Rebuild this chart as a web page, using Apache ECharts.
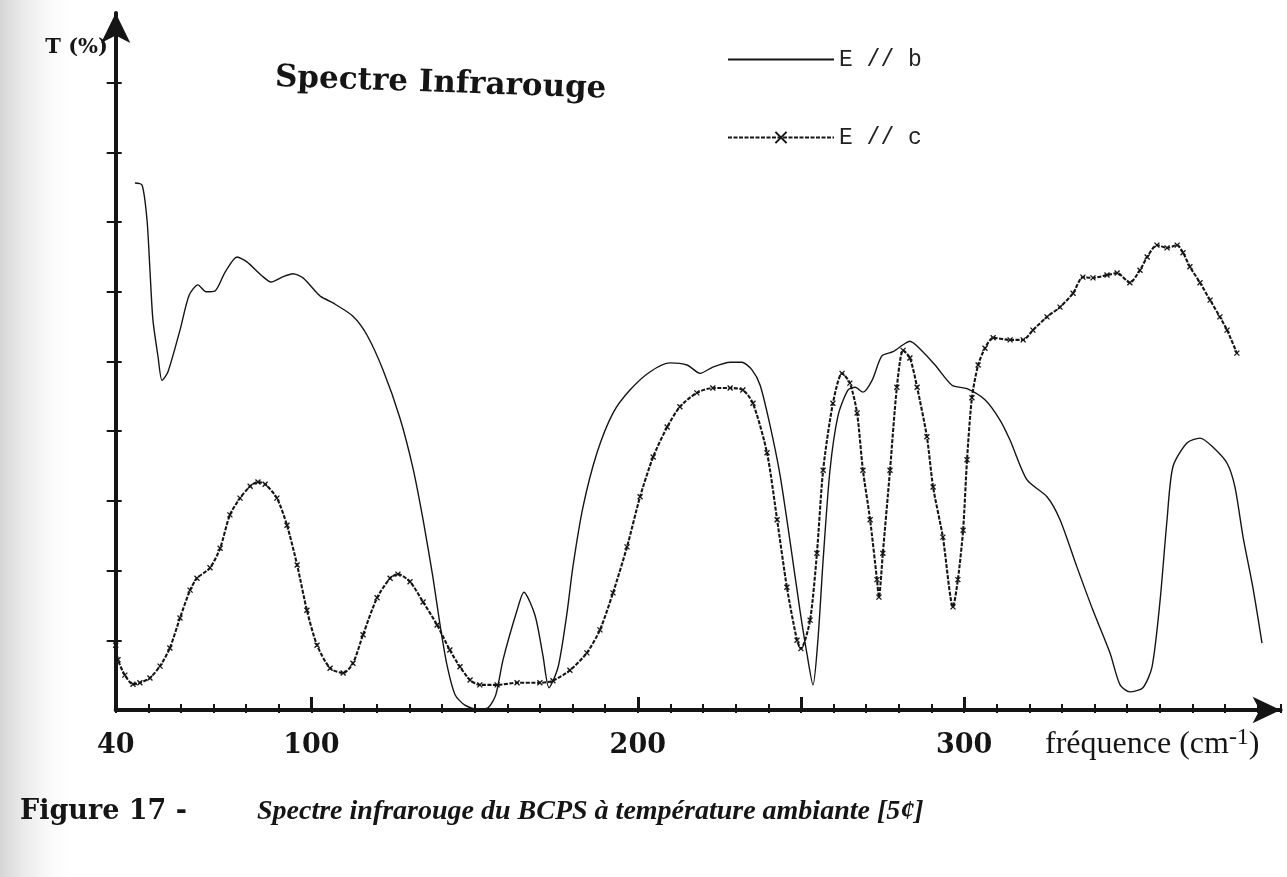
<!DOCTYPE html>
<html>
<head>
<meta charset="utf-8">
<title>Spectre Infrarouge</title>
<script src="https://cdn.jsdelivr.net/npm/echarts@6/dist/echarts.min.js"></script>
<style>
  html, body { margin: 0; padding: 0; background: #ffffff; }
  #chart { width: 1287px; height: 877px; }
</style>
</head>
<body>
<div id="chart"></div>
<script>
// Frequencies (cm-1) and transmission (%) for E // b
const freqB = [45.9, 48.1, 49.6, 50.5, 51.4, 53.0, 54.2, 56.0, 59.7, 62.5, 65.2, 67.7, 70.4, 73.5, 77.2, 80.2, 84.8, 87.6, 91.0, 94.3,
  97.4, 100.8, 102.9, 106.6, 112.7, 117.0, 121.9, 127.1, 131.1, 134.2, 137.2, 139.4, 141.5, 144.0, 147.0, 151.0, 154.1, 156.5, 158.7, 163.0,
  165.1, 168.5, 170.9, 172.8, 175.6, 178.3, 180.1, 183.2, 187.5, 192.4, 197.6, 203.7, 209.9, 215.1, 219.1, 223.0, 228.3, 231.9, 235.0, 237.5,
  240.5, 243.6, 246.6, 249.7, 251.9, 253.7, 255.2, 256.8, 258.9, 261.4, 264.4, 266.6, 269.0, 271.8, 274.8, 278.2, 281.3, 283.4, 286.5, 291.1,
  296.3, 300.9, 306.4, 311.0, 314.1, 319.3, 325.4, 329.4, 334.6, 339.5, 344.7, 347.8, 350.8, 354.8, 357.6, 360.0, 362.2, 364.0, 368.3, 372.3,
  376.3, 380.6, 383.0, 385.5, 388.5, 391.3];
const transB = [75.6, 75.3, 70.3, 63.1, 56.0, 50.6, 47.3, 48.5, 54.5, 59.5, 61.0, 60.0, 60.1, 62.8, 65.0, 64.3, 62.3, 61.4, 62.1, 62.6,
  62.0, 60.3, 59.3, 58.4, 56.5, 53.8, 48.8, 41.9, 34.7, 27.3, 19.1, 12.2, 6.5, 2.2, 0.7, 0.1, 0.3, 2.2, 7.2, 14.3,
  16.9, 13.6, 7.9, 3.2, 6.2, 13.9, 20.5, 29.1, 36.9, 42.6, 45.9, 48.5, 49.8, 49.5, 48.3, 49.2, 49.9, 49.9, 48.8, 46.6,
  40.9, 33.7, 24.4, 14.3, 7.9, 3.6, 10.0, 21.5, 34.4, 42.3, 45.9, 46.3, 45.6, 47.3, 50.8, 51.4, 52.4, 52.9, 51.8, 49.5,
  46.6, 46.1, 44.5, 41.6, 38.7, 33.0, 30.6, 27.3, 20.5, 14.3, 8.2, 3.6, 2.6, 3.2, 6.2, 15.4, 27.3, 34.9, 38.3, 39.0,
  37.7, 35.4, 32.0, 24.8, 17.6, 9.6];

// Frequencies (cm-1) and transmission (%) for E // c
const freqC = [40.0, 40.7, 42.8, 45.3, 47.4, 50.5, 53.6, 56.6, 59.7, 62.8, 64.9, 68.9, 72.0, 75.0, 78.1, 81.2, 83.6, 85.8, 89.4, 92.5,
  95.6, 98.6, 101.7, 105.7, 109.7, 112.7, 115.8, 120.1, 124.1, 126.5, 130.2, 134.2, 138.5, 142.4, 145.5, 148.6, 151.6, 156.9, 163.0, 170.0,
  174.0, 179.2, 184.4, 188.4, 192.4, 196.7, 200.7, 204.7, 209.0, 212.9, 218.1, 223.0, 228.3, 232.2, 235.3, 239.6, 242.7, 245.7, 248.8, 250.0,
  252.8, 254.9, 256.8, 259.8, 262.6, 265.0, 267.2, 269.0, 271.2, 273.3, 273.9, 275.1, 277.3, 279.4, 281.3, 283.4, 285.6, 288.6, 290.5, 293.5,
  296.6, 298.1, 299.7, 300.9, 302.4, 304.3, 306.4, 308.9, 314.1, 318.1, 321.1, 325.4, 329.4, 333.4, 336.4, 339.5, 343.8, 346.9, 350.8, 353.9,
  356.1, 359.1, 362.2, 365.3, 367.1, 369.2, 372.3, 375.4, 378.4, 380.6, 383.6];
const transC = [9.3, 7.2, 5.0, 3.7, 3.9, 4.6, 6.3, 8.9, 13.2, 17.2, 18.9, 20.4, 23.2, 28.0, 30.4, 32.1, 32.7, 32.4, 30.4, 26.5,
  20.8, 14.3, 9.3, 6.0, 5.3, 6.7, 10.8, 16.1, 18.9, 19.5, 18.4, 15.5, 12.2, 8.6, 6.2, 4.3, 3.6, 3.6, 3.9, 3.9,
  4.2, 5.7, 8.2, 11.5, 16.8, 23.4, 30.6, 36.3, 40.6, 43.5, 45.5, 46.2, 46.2, 45.9, 44.0, 36.9, 27.3, 17.6, 10.0, 8.8,
  12.9, 22.5, 34.4, 44.0, 48.3, 46.9, 42.6, 34.4, 27.3, 18.7, 16.2, 22.5, 34.4, 46.3, 51.6, 50.5, 46.3, 39.2, 32.0, 24.8,
  14.8, 18.7, 25.8, 35.9, 44.8, 49.5, 51.9, 53.4, 53.1, 53.1, 54.5, 56.4, 57.8, 59.8, 62.1, 62.0, 62.4, 62.7, 61.3, 63.1,
  65.0, 66.7, 66.3, 66.7, 65.6, 63.6, 61.3, 58.8, 56.4, 54.5, 51.2];

// Axis text and ticks
const xLabelValues = [40, 100, 200, 300];
const xMajorTicks = [100, 200, 250, 300];
const yTickValues = [10, 20, 30, 40, 50, 60, 70, 80, 90];
const seriesNames = ['E // b', 'E // c'];

const zip = (xs, ys) => xs.map((x, i) => [x, ys[i]]);

const INK = '#151515';
const serif = '"DejaVu Serif", "Liberation Serif", serif';
const X_MIN = 40, X_MAX = 397;

const chart = echarts.init(document.getElementById('chart'), null, { renderer: 'canvas' });

// a hidden x axis twin that only carries extra ticks
function tickAxis(extra) {
  return Object.assign({
    type: 'value',
    min: X_MIN,
    max: X_MAX,
    interval: 10,
    position: 'bottom',
    splitLine: { show: false },
    axisLine: { show: false, onZero: false },
    axisLabel: { show: false }
  }, extra);
}

const option = {
  backgroundColor: '#ffffff',
  animation: false,
  grid: {
    left: 115.7,
    right: 6.4,
    top: 13,
    bottom: 167,
    containLabel: false,
    outerBoundsMode: 'none'
  },
  legend: {
    orient: 'vertical',
    left: 722,
    top: 43,
    itemWidth: 106,
    itemHeight: 14,
    itemGap: 55,
    selectedMode: false,
    data: [
      { name: seriesNames[0], itemStyle: { color: 'transparent', borderWidth: 0 } },
      { name: seriesNames[1] }
    ],
    textStyle: {
      fontFamily: '"Liberation Mono", "DejaVu Sans Mono", monospace',
      fontSize: 23,
      color: '#222222'
    }
  },
  xAxis: [
    {
      type: 'value',
      min: X_MIN,
      max: X_MAX,
      interval: 10,
      position: 'bottom',
      splitLine: { show: false },
      axisLine: {
        show: true,
        onZero: false,
        symbol: ['none', 'arrow'],
        symbolSize: [20, 28],
        lineStyle: { color: INK, width: 4 }
      },
      axisTick: {
        show: true,
        inside: true,
        length: 6,
        lineStyle: { color: INK, width: 2 }
      },
      axisLabel: {
        customValues: xLabelValues,
        margin: 22,
        color: INK,
        fontFamily: serif,
        fontWeight: 'bold',
        fontSize: 27
      }
    },
    tickAxis({
      axisTick: {
        show: true,
        inside: true,
        length: 13,
        customValues: xMajorTicks,
        lineStyle: { color: INK, width: 3 }
      }
    }),
    tickAxis({
      axisTick: {
        show: true,
        inside: false,
        length: 3,
        lineStyle: { color: INK, width: 2 }
      }
    })
  ],
  yAxis: [
    {
      type: 'value',
      min: 0,
      max: 100,
      interval: 10,
      splitLine: { show: false },
      axisLine: {
        show: true,
        onZero: false,
        symbol: ['none', 'arrow'],
        symbolSize: [22, 30],
        lineStyle: { color: INK, width: 4 }
      },
      axisTick: {
        show: true,
        length: 9,
        customValues: yTickValues,
        lineStyle: { color: INK, width: 2 }
      },
      axisLabel: { show: false }
    },
    {
      type: 'value',
      min: 0,
      max: 100,
      interval: 10,
      position: 'left',
      splitLine: { show: false },
      axisLine: { show: false, onZero: false },
      axisTick: {
        show: true,
        inside: true,
        length: 6,
        customValues: yTickValues,
        lineStyle: { color: INK, width: 2 }
      },
      axisLabel: { show: false }
    }
  ],
  series: [
    {
      name: seriesNames[0],
      type: 'line',
      xAxisIndex: 0,
      yAxisIndex: 0,
      smooth: 0.25,
      symbol: 'none',
      data: zip(freqB, transB),
      lineStyle: { color: INK, width: 1.4 },
      itemStyle: { color: INK }
    },
    {
      name: seriesNames[1],
      type: 'line',
      xAxisIndex: 0,
      yAxisIndex: 0,
      smooth: 0.25,
      symbol: 'path://M0,0L10,10M10,0L0,10',
      symbolSize: 5,
      showSymbol: true,
      data: zip(freqC, transC),
      lineStyle: { color: INK, width: 2.1, type: [4, 1.5] },
      itemStyle: { color: 'none', borderColor: INK, borderWidth: 1.3 }
    }
  ],
  graphic: [
    {
      type: 'rect',
      z: -10,
      silent: true,
      shape: { x: 0, y: 0, width: 80, height: 877 },
      style: {
        fill: new echarts.graphic.LinearGradient(0, 0, 1, 0, [
          { offset: 0, color: 'rgba(150,150,150,0.40)' },
          { offset: 1, color: 'rgba(255,255,255,0)' }
        ])
      }
    },
    {
      type: 'text',
      x: 275,
      y: 78,
      rotation: -0.035,
      silent: true,
      style: {
        text: 'Spectre Infrarouge',
        fill: INK,
        font: 'bold 31px ' + serif,
        verticalAlign: 'middle',
        align: 'left'
      }
    },
    {
      type: 'text',
      x: 108,
      y: 48,
      silent: true,
      style: {
        text: 'T (%)',
        fill: INK,
        font: 'bold 21px ' + serif,
        verticalAlign: 'middle',
        align: 'right'
      }
    },
    {
      type: 'text',
      x: 1045,
      y: 745,
      silent: true,
      style: {
        text: 'fréquence (cm{sup|-1})',
        fill: INK,
        font: '32px "Liberation Serif", serif',
        verticalAlign: 'middle',
        align: 'left',
        rich: {
          sup: {
            font: '24px "Liberation Serif", serif',
            fill: INK,
            verticalAlign: 'top',
            padding: [0, 0, 15, 0]
          }
        }
      }
    },
    {
      type: 'text',
      x: 20,
      y: 812,
      silent: true,
      style: {
        text: 'Figure 17 -',
        fill: INK,
        font: 'bold 27px ' + serif,
        verticalAlign: 'middle',
        align: 'left'
      }
    },
    {
      type: 'text',
      x: 257,
      y: 812,
      silent: true,
      style: {
        text: 'Spectre infrarouge du BCPS à température ambiante [5¢]',
        fill: INK,
        font: 'italic bold 28px "Liberation Serif", serif',
        verticalAlign: 'middle',
        align: 'left'
      }
    }
  ]
};

chart.setOption(option);
</script>
</body>
</html>
